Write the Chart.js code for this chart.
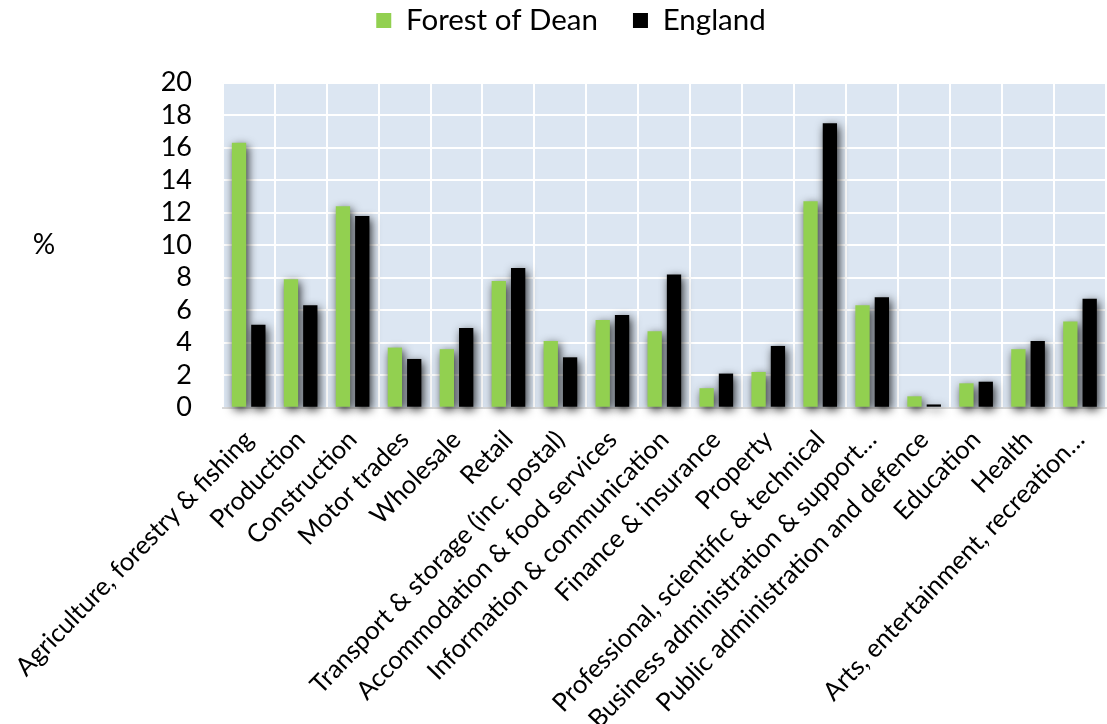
<!DOCTYPE html>
<html>
<head>
<meta charset="utf-8">
<script src="https://cdn.jsdelivr.net/npm/chart.js@4/dist/chart.umd.min.js"></script>
<style>
  html, body { margin: 0; padding: 0; background: #ffffff; }
  canvas { display: block; }
</style>
</head>
<body>
<canvas id="chart" width="1107" height="724"></canvas>
<script>
// Industry sectors (share of businesses, %)
const categories = [
  'Agriculture, forestry & fishing',
  'Production',
  'Construction',
  'Motor trades',
  'Wholesale',
  'Retail',
  'Transport & storage (inc. postal)',
  'Accommodation & food services',
  'Information & communication',
  'Finance & insurance',
  'Property',
  'Professional, scientific & technical',
  'Business administration & support…',
  'Public administration and defence',
  'Education',
  'Health',
  'Arts, entertainment, recreation…'
];

const forestOfDean = [16.3, 7.9, 12.4, 3.7, 3.6, 7.8, 4.1, 5.4, 4.7, 1.2, 2.2, 12.7, 6.3, 0.7, 1.5, 3.6, 5.3];
const england      = [5.1, 6.3, 11.8, 3.0, 4.9, 8.6, 3.1, 5.7, 8.2, 2.1, 3.8, 17.5, 6.8, 0.2, 1.6, 4.1, 6.7];

const seriesNames = ['Forest of Dean', 'England'];
const yMin = 0;
const yMax = 20;
const yStep = 2;
const yTitle = '%';

const FONT = "Lato, 'Open Sans', sans-serif";

// Light blue plot background behind the grid
const plotBackground = {
  id: 'plotBackground',
  beforeDraw(chart) {
    const { ctx, chartArea: a } = chart;
    ctx.save();
    ctx.fillStyle = '#dce6f2';
    ctx.fillRect(a.left, a.top, a.right - a.left, a.bottom - a.top);
    ctx.restore();
  }
};

// Soft drop shadow under the bars
const barShadow = {
  id: 'barShadow',
  beforeDatasetsDraw(chart) {
    const ctx = chart.ctx;
    ctx.save();
    ctx.shadowColor = 'rgba(0,0,0,0.8)';
    ctx.shadowBlur = 10;
    ctx.shadowOffsetX = 2;
    ctx.shadowOffsetY = 3;
  },
  afterDatasetsDraw(chart) {
    chart.ctx.restore();
  }
};

// Nudge the legend row a little to the right of the canvas centre
const legendOffset = {
  id: 'legendOffset',
  afterLayout(chart) {
    if (chart.legend) {
      chart.legend.left += 18;
      chart.legend.right += 18;
    }
  }
};

// Horizontal "%" label left of the value axis
const unitLabel = {
  id: 'unitLabel',
  afterDraw(chart) {
    const { ctx, chartArea: a } = chart;
    ctx.save();
    ctx.font = `28px ${FONT}`;
    ctx.fillStyle = '#000000';
    ctx.textAlign = 'center';
    ctx.textBaseline = 'middle';
    ctx.fillText(yTitle, 44, (a.top + a.bottom) / 2);
    ctx.restore();
  }
};

new Chart(document.getElementById('chart'), {
  type: 'bar',
  data: {
    labels: categories,
    datasets: [
      {
        label: seriesNames[0],
        data: forestOfDean,
        backgroundColor: '#92d050',
        borderWidth: 0,
        categoryPercentage: 0.744,
        barPercentage: 0.74,
        clip: false
      },
      {
        label: seriesNames[1],
        data: england,
        backgroundColor: '#000000',
        borderWidth: 0,
        categoryPercentage: 0.744,
        barPercentage: 0.74,
        clip: false
      }
    ]
  },
  options: {
    responsive: false,
    devicePixelRatio: 1,
    animation: false,
    layout: { padding: { top: -29.3, left: 0, right: 1, bottom: 0 } },
    plugins: {
      legend: {
        position: 'top',
        align: 'center',
        labels: {
          boxWidth: 15,
          boxHeight: 15,
          padding: 35,
          color: '#000000',
          font: { family: FONT, size: 29.5 }
        }
      },
      // empty title placed below the legend as a spacer above the plot
      title: {
        display: true,
        text: '',
        position: 'top',
        weight: 500,
        font: { size: 10, lineHeight: 1 },
        padding: { top: 0, bottom: 27.5 }
      },
      tooltip: { enabled: false }
    },
    scales: {
      x: {
        grid: { color: '#ffffff', lineWidth: 2, drawTicks: false, offset: true },
        border: { display: true, color: '#d9d9d9', width: 2 },
        ticks: {
          autoSkip: false,
          maxRotation: 46,
          minRotation: 46,
          padding: 17,
          color: '#000000',
          font: { family: FONT, size: 25.5 }
        },
        afterFit(scale) {
          scale.height = 316.3;
          scale.paddingLeft = 0;
          scale.paddingRight = 0;
        }
      },
      y: {
        min: yMin,
        max: yMax,
        grid: { color: '#ffffff', lineWidth: 2, drawTicks: false },
        border: { display: false },
        ticks: {
          stepSize: yStep,
          autoSkip: false,
          padding: 30.7,
          color: '#000000',
          font: { family: FONT, size: 27 }
        },
        afterFit(scale) {
          scale.width = 222.7;
          scale.paddingTop = 0;
        }
      }
    }
  },
  plugins: [plotBackground, barShadow, legendOffset, unitLabel]
});
</script>
</body>
</html>
